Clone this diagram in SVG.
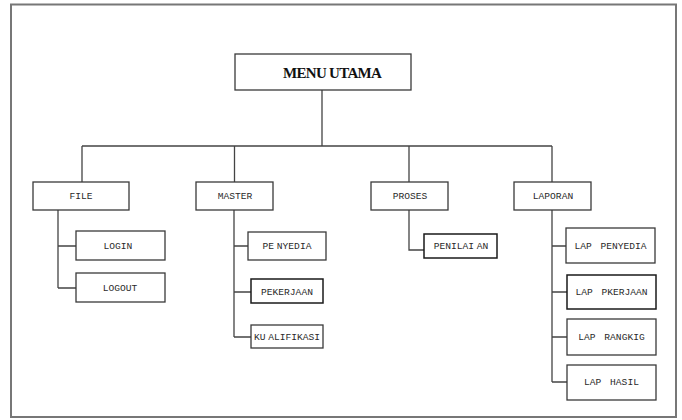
<svg xmlns="http://www.w3.org/2000/svg" width="682" height="420" viewBox="0 0 682 420">
  <style>
    .frame { fill: none; stroke: #777; stroke-width: 2; }
    .box { fill: #fff; stroke: #3a3a3a; stroke-width: 1.3; }
    .box.dark { stroke: #1a1a1a; stroke-width: 1.5; }
    .link { fill: none; stroke: #444; stroke-width: 1.3; }
    .title { font-family: "Liberation Serif", "Times New Roman", serif; font-weight: bold; font-size: 15px; letter-spacing: -0.7px; fill: #111; }
    .lbl { font-family: "Liberation Mono", "Courier New", monospace; font-size: 9.6px; fill: #2a2a2a; text-anchor: middle; }
    .lap { word-spacing: 3px; }
    .gap { word-spacing: -3px; }
  </style>

  <rect class="frame" x="11" y="4.5" width="665" height="412.5"/>

  <!-- tree connectors -->
  <g id="connectors">
    <path class="link" d="M322 90 V146 M82 146 H552 M82 146 V182 M234.5 146 V182 M409 146 V182 M552 146 V182"/>
    <path class="link" d="M58 210 V288 M58 246 H76 M58 288 H76"/>
    <path class="link" d="M234 210 V337 M234 246 H248 M234 292 H251 M234 337 H251"/>
    <path class="link" d="M409 210 V250 H424"/>
    <path class="link" d="M552 210 V382 M552 246 H566 M552 292 H567 M552 337 H567 M552 382 H567"/>
  </g>

  <g id="menu-utama">
    <rect class="box" x="235" y="54" width="176" height="36"/>
    <text class="title" x="283" y="77.5">MENU UTAMA</text>
  </g>

  <g id="file">
    <rect class="box" x="33" y="182" width="96" height="28"/>
    <text class="lbl" x="81" y="199">FILE</text>
  </g>
  <g id="login">
    <rect class="box" x="76" y="231" width="89" height="29"/>
    <text class="lbl" x="118" y="249">LOGIN</text>
  </g>
  <g id="logout">
    <rect class="box" x="76" y="273" width="89" height="29"/>
    <text class="lbl" x="120" y="291">LOGOUT</text>
  </g>

  <g id="master">
    <rect class="box" x="196" y="182" width="77" height="28"/>
    <text class="lbl" x="235" y="199">MASTER</text>
  </g>
  <g id="penyedia">
    <rect class="box" x="248" y="232" width="78" height="28"/>
    <text class="lbl gap" x="287" y="249">PE NYEDIA</text>
  </g>
  <g id="pekerjaan">
    <rect class="box dark" x="251" y="279" width="72" height="24"/>
    <text class="lbl" x="287" y="294.5">PEKERJAAN</text>
  </g>
  <g id="kualifikasi">
    <rect class="box" x="251" y="325" width="72" height="23"/>
    <text class="lbl gap" x="287" y="339.5">KU ALIFIKASI</text>
  </g>

  <g id="proses">
    <rect class="box" x="371" y="182" width="77" height="28"/>
    <text class="lbl" x="410" y="199">PROSES</text>
  </g>
  <g id="penilaian">
    <rect class="box dark" x="424" y="234" width="73" height="24"/>
    <text class="lbl gap" x="461" y="249">PENILAI AN</text>
  </g>

  <g id="laporan">
    <rect class="box" x="514" y="182" width="77" height="28"/>
    <text class="lbl" x="553" y="199">LAPORAN</text>
  </g>
  <g id="lap-penyedia">
    <rect class="box" x="566" y="228" width="89" height="35"/>
    <text class="lbl lap" x="610.5" y="249">LAP PENYEDIA</text>
  </g>
  <g id="lap-pkerjaan">
    <rect class="box dark" x="567" y="275" width="89" height="34"/>
    <text class="lbl lap" x="611.5" y="295">LAP PKERJAAN</text>
  </g>
  <g id="lap-rangkig">
    <rect class="box" x="567" y="319" width="89" height="36"/>
    <text class="lbl lap" x="611.5" y="340">LAP RANGKIG</text>
  </g>
  <g id="lap-hasil">
    <rect class="box" x="567" y="365" width="89" height="35"/>
    <text class="lbl lap" x="611.5" y="385">LAP HASIL</text>
  </g>
</svg>
